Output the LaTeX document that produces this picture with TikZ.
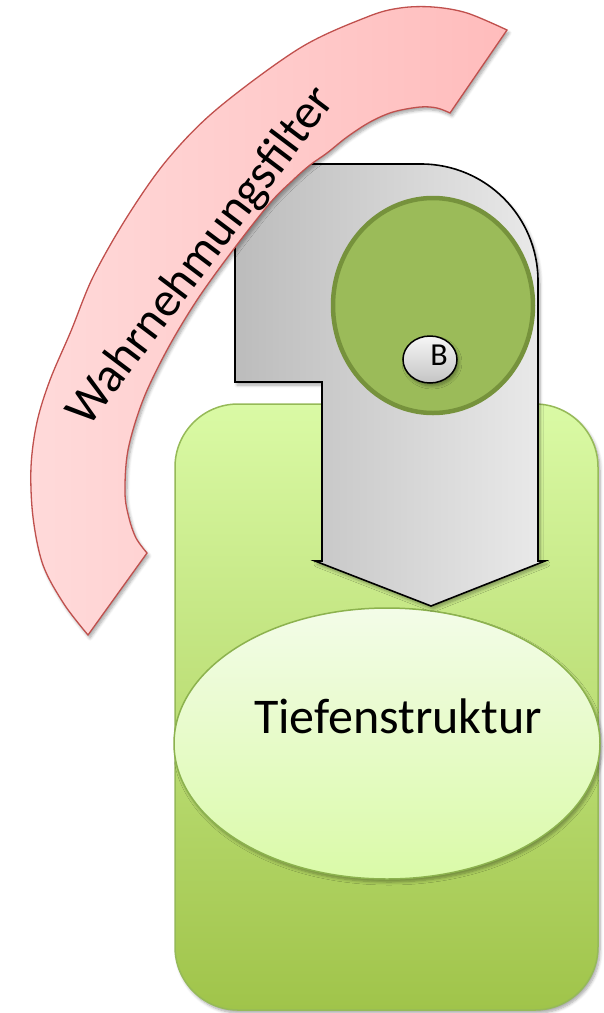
\documentclass[tikz,border=0pt]{standalone}
\usepackage{fontspec}
\setmainfont{Carlito}
\usetikzlibrary{shapes.geometric,shadows,shadows.blur}

\definecolor{boxTop}{RGB}{218,250,165}
\definecolor{boxMid}{RGB}{200,236,132}
\definecolor{boxBot}{RGB}{160,196,74}
\definecolor{boxLine}{RGB}{150,186,88}
\definecolor{ellTop}{RGB}{243,252,232}
\definecolor{ellBot}{RGB}{218,250,168}
\definecolor{ellLine}{RGB}{140,178,78}
\definecolor{grayL}{RGB}{188,188,188}
\definecolor{grayR}{RGB}{234,234,234}
\definecolor{coreFill}{RGB}{155,187,89}
\definecolor{coreLine}{RGB}{118,146,60}
\definecolor{filterL}{RGB}{255,218,218}
\definecolor{filterR}{RGB}{255,188,188}
\definecolor{filterLine}{RGB}{192,80,77}
\definecolor{btnTop}{RGB}{246,246,246}
\definecolor{btnBot}{RGB}{196,196,196}

\tikzset{
  softshadow/.style={blur shadow={shadow xshift=2pt, shadow yshift=-3pt,
      shadow blur steps=6, shadow blur radius=3pt, shadow opacity=35}},
  basebox/.style={draw=boxLine, line width=1.5pt, top color=boxTop,
      middle color=boxMid, bottom color=boxBot, softshadow},
  deepell/.style={ellipse, draw=ellLine, line width=1.5pt, top color=ellTop,
      bottom color=ellBot, inner sep=0pt, softshadow},
  arrowbody/.style={draw=black, line width=1.6pt, left color=grayL,
      right color=grayR, line join=miter, softshadow},
  core/.style={ellipse, draw=coreLine, line width=4.5pt, fill=coreFill, inner sep=0pt},
  button/.style={ellipse, draw=black, line width=1.5pt, top color=btnTop,
      bottom color=btnBot, inner sep=0pt, softshadow},
  filterband/.style={draw=filterLine, line width=1.3pt, left color=filterL,
      right color=filterR, softshadow},
  label/.style={inner sep=0pt, text=black}
}

\begin{document}
\begin{tikzpicture}[x=1pt,y=-1pt]
\useasboundingbox (0,0) rectangle (603,1013);

% green base block
\draw[basebox, rounded corners=63pt] (175,404) rectangle (598,1010);

% deep structure ellipse
\node[deepell, minimum width=426pt, minimum height=271pt] (deep) at (387,743.5) {};
\node[label, anchor=base, font=\fontsize{50}{60}\selectfont] (deeptext) at (398,733) {Tiefenstruktur};

% grey arrow pointing down into the ellipse
\draw[arrowbody]
  (235,382) -- (235,164) -- (421,164)
  .. controls (485.6,164) and (538,216.4) .. (538,281)
  -- (538,561) -- (545,561) -- (431,606) -- (315,561) -- (322,561)
  -- (322,382) -- cycle;

% green core circle with the B marker
\node[core, minimum width=200pt, minimum height=215pt] (core) at (433,305.5) {};
\node[button, minimum width=54pt, minimum height=47pt] (btn) at (430,359.5) {};
\node[label, anchor=base, font=\fontsize{32}{36}\selectfont] (btntext) at (439,365) {B};

% curved perception filter arrow
\draw[filterband]
  plot[smooth, tension=0.55] coordinates {
    (507,30) (467,13) (433,7) (400,8) (367,17) (300,48) (217,109) (167,160)
    (127,217) (93,277) (71,331) (50,380) (37,422) (31,467) (33,517) (43,565)
    (64,604) (88,635)}
  -- (147,553)
  -- plot[smooth, tension=0.55] coordinates {
    (147,553) (136,538) (129,518) (125,493) (128,450) (143,400) (167,350)
    (197,300) (233,250) (270,203) (293,180) (310,165) (327,153) (347,137)
    (370,122) (393,112) (420,107) (437,108) (450,113)}
  -- cycle;
\node[label, rotate=53, font=\fontsize{49}{58}\selectfont] (filtertext) at (202,257) {Wahrnehmungsfilter};
\end{tikzpicture}
\end{document}
